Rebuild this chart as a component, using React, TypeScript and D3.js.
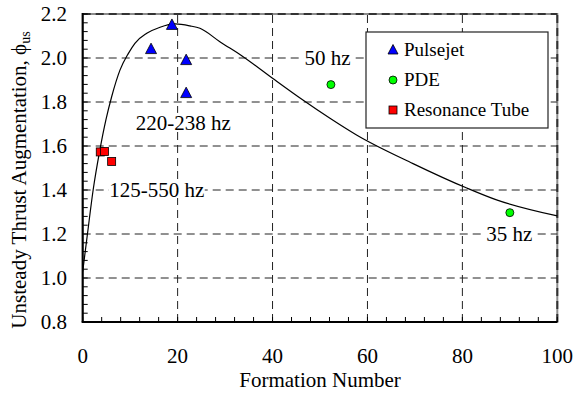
import React from "react";
import * as d3 from "d3";

const xTicks = [0, 20, 40, 60, 80, 100];
const yTicks = [0.8, 1.0, 1.2, 1.4, 1.6, 1.8, 2.0, 2.2];

const pulsejet: [number, number][] = [
  [14.4, 2.04],
  [18.8, 2.15],
  [21.8, 1.99],
  [21.8, 1.84],
];
const pde: [number, number][] = [
  [52.3, 1.879],
  [90.0, 1.297],
];
const resonance: [number, number][] = [
  [3.7, 1.573],
  [4.6, 1.575],
  [6.1, 1.53],
];
const curvePts: [number, number][] = [
  [0, 1.03], [1, 1.2], [2.2, 1.4], [3.6, 1.58], [4.9, 1.72], [6.1, 1.824],
  [7.85, 1.945], [9.6, 2.02], [11, 2.067], [13.5, 2.112], [16.3, 2.14],
  [19.5, 2.155], [22.6, 2.146], [24.7, 2.135], [28.9, 2.074], [33.8, 2.006],
  [40, 1.908], [46.4, 1.809], [52.1, 1.726], [57.7, 1.65], [69.6, 1.52],
  [80.8, 1.41], [87.2, 1.355], [100, 1.282],
];
const annotations: { text: string; x: number; y: number }[] = [
  { text: "220-238 hz", x: 21.2, y: 1.705 },
  { text: "125-550 hz", x: 15.6, y: 1.4 },
  { text: "50 hz", x: 51.6, y: 2.0 },
  { text: "35 hz", x: 89.9, y: 1.2 },
];

const W = 574, H = 393;
const FONT = '"Liberation Serif", "Times New Roman", Times, serif';

export default function App() {
  const x = d3.scaleLinear().domain([0, 100]).range([82.7, 557.3]);
  const y = d3.scaleLinear().domain([0.8, 2.2]).range([322, 14]);
  const line = d3.line<[number, number]>().x(d => x(d[0])).y(d => y(d[1])).curve(d3.curveMonotoneX);
  const xMinor = d3.range(0, 100.01, 4);
  const yMinor = d3.range(0, 36).map(i => 0.8 + i * 0.04);
  const tri = (cx: number, cy: number, s = 11) =>
    `M${cx},${cy - s * 0.55} L${cx + s / 2},${cy + s * 0.4} L${cx - s / 2},${cy + s * 0.4} Z`;
  const ts = { fontFamily: FONT };

  return (
    <svg width={W} height={H} style={{ position: "absolute", left: 0, top: 0, background: "#fff", fontFamily: FONT }}>
      <rect x={0} y={0} width={W} height={H} fill="#fff" />
      {/* frame */}
      <rect x={x(0)} y={y(2.2)} width={x(100) - x(0)} height={y(0.8) - y(2.2)} fill="none" stroke="#8c8c8c" strokeWidth={2} />
      <line x1={x(0)} x2={x(100)} y1={y(2.2)} y2={y(2.2)} stroke="#333" strokeWidth={2} strokeDasharray="8,5" />
      <line x1={x(100)} x2={x(100)} y1={y(0.8)} y2={y(2.2)} stroke="#333" strokeWidth={2} strokeDasharray="8,5" />
      {/* grid */}
      {yTicks.slice(1, -1).map(t => (
        <line key={"gy" + t} x1={x(0)} x2={x(100)} y1={y(t)} y2={y(t)} stroke="#222" strokeWidth={1} strokeDasharray="8,5" />
      ))}
      {xTicks.slice(1, -1).map(t => (
        <line key={"gx" + t} x1={x(t)} x2={x(t)} y1={y(0.8)} y2={y(2.2)} stroke="#222" strokeWidth={1} strokeDasharray="8,5" />
      ))}
      {/* curve */}
      <path d={line(curvePts) || ""} fill="none" stroke="#000" strokeWidth={1.2} />
      {/* annotations */}
      {annotations.map(a => {
        const w = a.text.length * 9.4 + 2;
        return (
          <g key={a.text}>
            <rect x={x(a.x) - w / 2} y={y(a.y) - 10} width={w} height={18} fill="#fff" />
            <text style={ts} x={x(a.x)} y={y(a.y) + 7} fontSize={21} textAnchor="middle" fill="#000">{a.text}</text>
          </g>
        );
      })}
      {/* axes */}
      <line x1={x(0)} x2={x(0)} y1={y(0.8)} y2={y(2.2) - 1} stroke="#000" strokeWidth={2} />
      <line x1={x(0) - 1} x2={x(100)} y1={y(0.8)} y2={y(0.8)} stroke="#000" strokeWidth={2} />
      {xMinor.map(t => (
        <line key={"mx" + t} x1={x(t)} x2={x(t)} y1={y(0.8)} y2={y(0.8) - 5} stroke="#000" strokeWidth={1} />
      ))}
      {yMinor.map(t => (
        <line key={"my" + t} x1={x(0)} x2={x(0) + 5} y1={y(t)} y2={y(t)} stroke="#000" strokeWidth={1} />
      ))}
      {/* tick labels */}
      {xTicks.map(t => (
        <text style={ts} key={"tx" + t} x={x(t)} y={363} fontSize={21} textAnchor="middle">{t}</text>
      ))}
      {yTicks.map(t => (
        <text style={ts} key={"ty" + t} x={67} y={y(t) + 7} fontSize={21} textAnchor="end">{t.toFixed(1)}</text>
      ))}
      {/* axis titles */}
      <text style={ts} x={320} y={387} fontSize={21} textAnchor="middle">Formation Number</text>
      <text style={ts} transform={`translate(26,180) rotate(-90)`} fontSize={21} textAnchor="middle">
        Unsteady Thrust Augmentation, {"\u03D5"}
        <tspan fontSize={14} dy={4}>us</tspan>
      </text>
      {/* markers */}
      {resonance.map((d, i) => (
        <rect key={"r" + i} x={x(d[0]) - 4} y={y(d[1]) - 4} width={8} height={8} fill="#ff0000" stroke="#000" strokeWidth={0.8} />
      ))}
      {pulsejet.map((d, i) => (
        <path key={"p" + i} d={tri(x(d[0]), y(d[1]))} fill="#0000ff" stroke="#000" strokeWidth={0.8} />
      ))}
      {pde.map((d, i) => (
        <circle key={"c" + i} cx={x(d[0])} cy={y(d[1])} r={4} fill="#00ff00" stroke="#000" strokeWidth={0.8} />
      ))}
      {/* legend */}
      <g>
        <rect x={366} y={32} width={182} height={96} fill="#fff" stroke="#222" strokeWidth={1.2} />
        <path d={tri(393, 50, 10)} fill="#0000ff" stroke="#000" strokeWidth={0.8} />
        <text style={ts} x={404} y={56} fontSize={19}>Pulsejet</text>
        <circle cx={393} cy={80} r={4} fill="#00ff00" stroke="#000" strokeWidth={0.8} />
        <text style={ts} x={404} y={86} fontSize={19}>PDE</text>
        <rect x={389} y={106} width={8} height={8} fill="#ff0000" stroke="#000" strokeWidth={0.8} />
        <text style={ts} x={404} y={116} fontSize={19}>Resonance Tube</text>
      </g>
    </svg>
  );
}
